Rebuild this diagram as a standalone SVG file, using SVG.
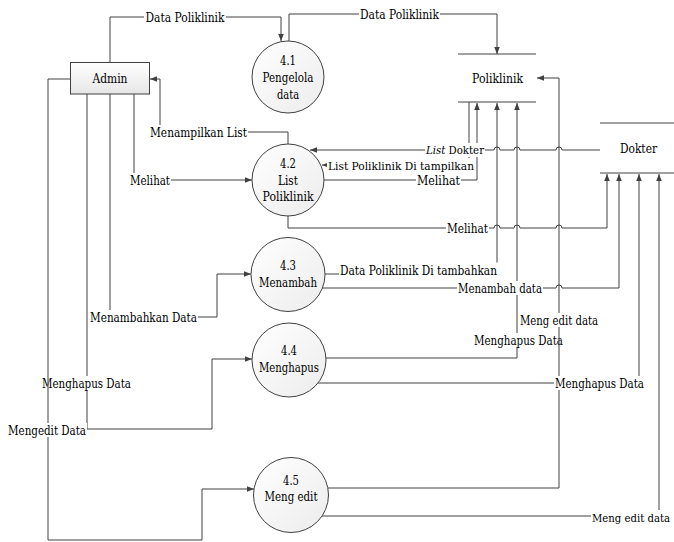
<svg xmlns="http://www.w3.org/2000/svg" width="674" height="542" viewBox="0 0 674 542">
<style>
text{font-family:'DejaVu Serif',serif;font-size:12px;fill:#000}
.c{text-anchor:middle}
.e{text-anchor:end}
.s{font-size:11px}
.ln{fill:none;stroke:#404040;stroke-width:1;marker-end:url(#arr)}
.st{stroke:#404040;stroke-width:1}
.bg{fill:#fff}
.proc{fill:url(#gc);stroke:#404040;stroke-width:1}
</style>
<defs>
<linearGradient id="gc" x1="0" y1="0" x2="1" y2="1"><stop offset="0" stop-color="#ffffff"/><stop offset="1" stop-color="#ececec"/></linearGradient>
<linearGradient id="gr" x1="0" y1="0" x2="0" y2="1"><stop offset="0" stop-color="#ffffff"/><stop offset="1" stop-color="#e6e6e6"/></linearGradient>
<marker id="arr" viewBox="0 0 10 10" refX="10" refY="5" markerWidth="7" markerHeight="7" markerUnits="userSpaceOnUse" orient="auto"><path d="M0,1 L10,5 L0,9 z" fill="#404040"/></marker>
</defs>

<g id="connectors">
<path class="ln" d="M110,62 V17 H281 V41"/>
<path class="ln" d="M289,41 V14 H497 V54"/>
<path class="ln" d="M288,144 V132 H160 V79 H150"/>
<path class="ln" d="M134,94 V180 H252"/>
<path class="ln" d="M110,94 V317 H217 V274 H251"/>
<path class="ln" d="M87,94 V429 H212 V359 H252"/>
<path class="ln" d="M600,150 H562 A3,3 0 0 0 556,150 H520 A3,3 0 0 0 514,150 H500 A3,3 0 0 0 494,150 H310"/>
<path class="ln" d="M469,102 V165 H322"/>
<path class="ln" d="M324,180 H477 V103"/>
<path class="ln" d="M288,216 V228 H494 A3,3 0 0 1 500,228 H514 A3,3 0 0 1 520,228 H556 A3,3 0 0 1 562,228 H607 V174"/>
<path class="ln" d="M325,274 H497 V103"/>
<path class="ln" d="M322,288 H556 A3,3 0 0 1 562,288 H619 V174"/>
<path class="ln" d="M326,358 H517 V103"/>
<path class="ln" d="M318,383 H639 V174"/>
<path class="ln" d="M322,516 H659 V174"/>

<rect class="bg" x="144" y="10" width="82" height="14"/><text class="c" x="185" y="21.5" textLength="79" lengthAdjust="spacingAndGlyphs">Data Poliklinik</text>
<rect class="bg" x="359" y="7" width="81" height="14"/><text class="c" x="399.5" y="18.5" textLength="79" lengthAdjust="spacingAndGlyphs">Data Poliklinik</text>
<rect class="bg" x="149" y="125" width="99" height="14"/><text class="c" x="198.5" y="136.5" textLength="97" lengthAdjust="spacingAndGlyphs">Menampilkan List</text>
<rect class="bg" x="129" y="173" width="42" height="14"/><text class="c" x="150" y="184.5" textLength="40" lengthAdjust="spacingAndGlyphs">Melihat</text>
<rect class="bg" x="89" y="310" width="109" height="14"/><text class="c" x="143.5" y="321.5" textLength="107" lengthAdjust="spacingAndGlyphs">Menambahkan Data</text>
<rect class="bg" x="41" y="376" width="91" height="14"/><text class="c" x="86.5" y="387.5" textLength="89" lengthAdjust="spacingAndGlyphs">Menghapus Data</text>
<rect class="bg" x="425" y="143" width="60" height="14"/><text class="c s" x="455" y="154" textLength="58" lengthAdjust="spacingAndGlyphs"><tspan font-style="italic">List</tspan> Dokter</text>
<rect class="bg" x="327" y="158" width="148" height="14"/><text class="c s" x="401" y="169.5" textLength="146" lengthAdjust="spacingAndGlyphs">List Poliklinik Di tampilkan</text>
<rect class="bg" x="416" y="173" width="45" height="14"/><text class="c" x="438.5" y="184.5" textLength="43" lengthAdjust="spacingAndGlyphs">Melihat</text>
<rect class="bg" x="446" y="221" width="43" height="14"/><text class="c" x="467.5" y="232.5" textLength="41" lengthAdjust="spacingAndGlyphs">Melihat</text>
<rect class="bg" x="339" y="262.5" width="160" height="15.5"/><text class="c" x="418.5" y="274.5" textLength="157" lengthAdjust="spacingAndGlyphs">Data Poliklinik Di tambahkan</text>
<rect class="bg" x="457" y="281" width="86" height="14"/><text class="c" x="500" y="292.5" textLength="84" lengthAdjust="spacingAndGlyphs">Menambah data</text>
<rect class="bg" x="473" y="333" width="91" height="14"/><text class="c" x="518.5" y="344.5" textLength="89" lengthAdjust="spacingAndGlyphs">Menghapus Data</text>
<rect class="bg" x="591" y="510" width="80" height="14"/><text class="e s" x="670" y="521.5" textLength="78" lengthAdjust="spacingAndGlyphs">Meng edit data</text>

<path class="ln" d="M70,79 H48 V540 H202 V489 H254"/>
<path class="ln" d="M328,488 H559 V78 H537"/>

<rect class="bg" x="7" y="423" width="80" height="14"/><text class="c" x="47" y="434.5" textLength="78" lengthAdjust="spacingAndGlyphs">Mengedit Data</text>
<rect class="bg" x="519" y="313" width="80" height="14"/><text class="c" x="559" y="324.5" textLength="78" lengthAdjust="spacingAndGlyphs">Meng edit data</text>
<rect class="bg" x="554" y="376" width="91" height="14"/><text class="c" x="599.5" y="387.5" textLength="89" lengthAdjust="spacingAndGlyphs">Menghapus Data</text>
</g>

<g id="admin">
<rect x="70.5" y="62.5" width="79" height="31.5" fill="url(#gr)" stroke="#404040"/>
<text class="c" x="110" y="83" textLength="35" lengthAdjust="spacingAndGlyphs">Admin</text>
</g>

<g id="p41">
<circle class="proc" cx="288" cy="77" r="36"/>
<text class="c" x="288" y="65" textLength="16" lengthAdjust="spacingAndGlyphs">4.1</text>
<text class="c" x="288" y="82" textLength="51" lengthAdjust="spacingAndGlyphs">Pengelola</text>
<text class="c" x="288" y="99" textLength="22" lengthAdjust="spacingAndGlyphs">data</text>
</g>

<g id="p42">
<circle class="proc" cx="288" cy="180" r="36"/>
<text class="c" x="288" y="168" textLength="16" lengthAdjust="spacingAndGlyphs">4.2</text>
<text class="c" x="288" y="184.5" textLength="20" lengthAdjust="spacingAndGlyphs">List</text>
<text class="c" x="288" y="201" textLength="51" lengthAdjust="spacingAndGlyphs">Poliklinik</text>
</g>

<g id="p43">
<circle class="proc" cx="288" cy="274.5" r="37"/>
<text class="c" x="288" y="270" textLength="16" lengthAdjust="spacingAndGlyphs">4.3</text>
<text class="c" x="288" y="287" textLength="58" lengthAdjust="spacingAndGlyphs">Menambah</text>
</g>

<g id="p44">
<circle class="proc" cx="289" cy="360" r="37"/>
<text class="c" x="289" y="355" textLength="16" lengthAdjust="spacingAndGlyphs">4.4</text>
<text class="c" x="289" y="372" textLength="60" lengthAdjust="spacingAndGlyphs">Menghapus</text>
</g>

<g id="p45">
<circle class="proc" cx="291" cy="495" r="37.5"/>
<text class="c" x="291" y="485" textLength="16" lengthAdjust="spacingAndGlyphs">4.5</text>
<text class="c" x="291" y="501" textLength="53" lengthAdjust="spacingAndGlyphs">Meng edit</text>
</g>

<g id="store-poliklinik">
<line class="st" x1="458" y1="54" x2="536" y2="54"/>
<line class="st" x1="458" y1="102" x2="536" y2="102"/>
<text class="c" x="497.5" y="83" textLength="51" lengthAdjust="spacingAndGlyphs">Poliklinik</text>
</g>

<g id="store-dokter">
<line class="st" x1="600" y1="123" x2="674" y2="123"/>
<line class="st" x1="600" y1="173" x2="674" y2="173"/>
<text class="c" x="638.5" y="153" textLength="37" lengthAdjust="spacingAndGlyphs">Dokter</text>
</g>
</svg>
